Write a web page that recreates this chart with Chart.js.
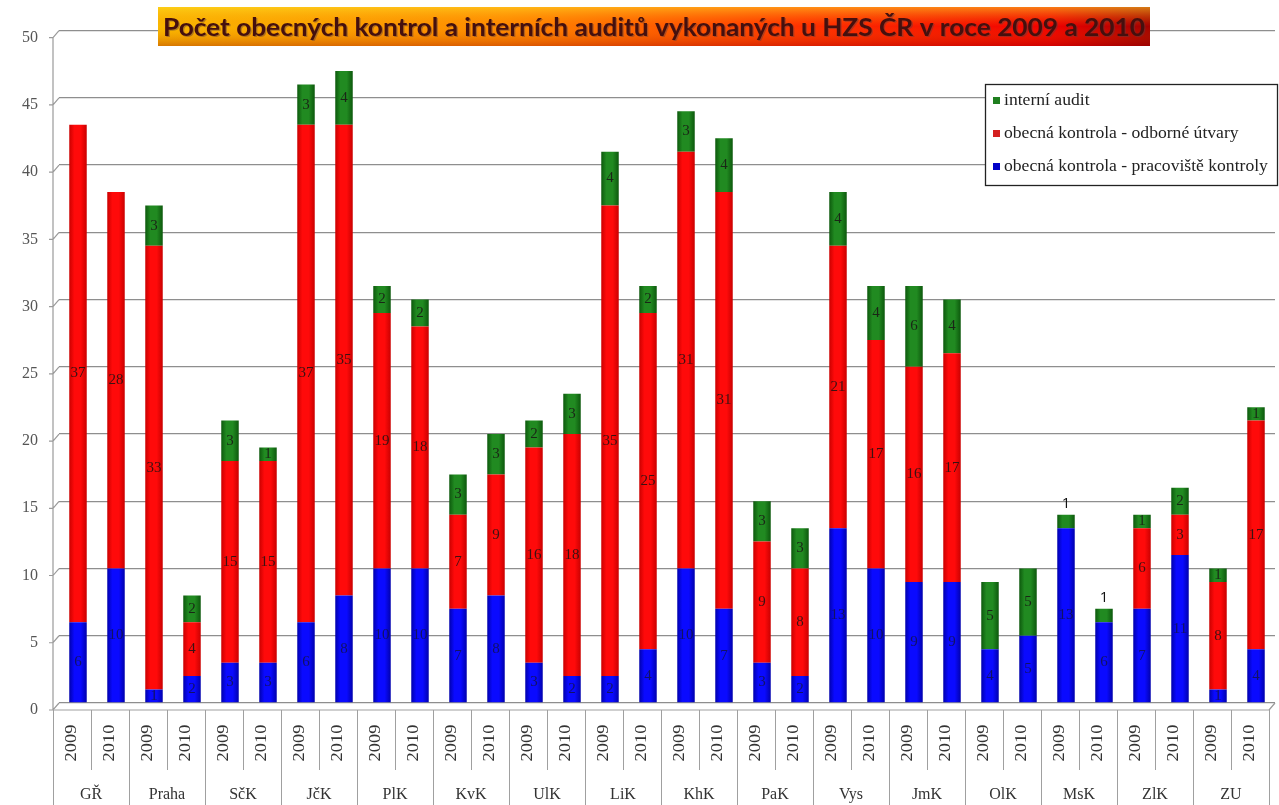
<!DOCTYPE html>
<html lang="cs">
<head>
<meta charset="utf-8">
<title>Počet obecných kontrol a interních auditů</title>
<script src="https://cdn.jsdelivr.net/npm/chart.js"></script>
<style>
  html, body { margin: 0; padding: 0; background: #fff; }
  #wrap { width: 1279px; height: 805px; position: relative; }
</style>
</head>
<body>
<div id="wrap"><canvas id="chart" width="1279" height="805"></canvas></div>
<script>
const chartTitle = 'Počet obecných kontrol a interních auditů vykonaných u HZS ČR v roce 2009 a 2010';
const regions = ['GŘ', 'Praha', 'SčK', 'JčK', 'PlK', 'KvK', 'UlK', 'LiK', 'KhK', 'PaK', 'Vys', 'JmK', 'OlK', 'MsK', 'ZlK', 'ZU'];
const years = ['2009', '2010'];
const yTicks = [0, 5, 10, 15, 20, 25, 30, 35, 40, 45, 50];

// one value per bar: GŘ 2009, GŘ 2010, Praha 2009, Praha 2010, ...
const pracovisteKontroly = [6, 10, 1, 2, 3, 3, 6, 8, 10, 10, 7, 8, 3, 2, 2, 4, 10, 7, 3, 2, 13, 10, 9, 9, 4, 5, 13, 6, 7, 11, 1, 4];
const odborneUtvary = [37, 28, 33, 4, 15, 15, 37, 35, 19, 18, 7, 9, 16, 18, 35, 25, 31, 31, 9, 8, 21, 17, 16, 17, 0, 0, 0, 0, 6, 3, 8, 17];
const interniAudit = [0, 0, 3, 2, 3, 1, 3, 4, 2, 2, 3, 3, 2, 3, 4, 2, 3, 4, 3, 3, 4, 4, 6, 4, 5, 5, 1, 1, 1, 2, 1, 1];

// regions whose audit label sits above the bar
const labelsAboveBar = ['MsK'];

const barLabels = regions.flatMap(r => years.map(y => y));
const serif = "'Liberation Serif', 'DejaVu Serif', serif";

// cylinder-ish shading across each bar
function cylinder(base, edge) {
    return function(context) {
        const chart = context.chart;
        const x = chart.scales.x;
        if (!chart.chartArea || !x) return base;
        const cx = x.getPixelForValue(context.dataIndex);
        const g = chart.ctx.createLinearGradient(cx - 9, 0, cx + 9, 0);
        g.addColorStop(0, edge);
        g.addColorStop(0.3, base);
        g.addColorStop(0.65, base);
        g.addColorStop(1, edge);
        return g;
    };
}

// value labels in the middle of each segment
const segmentLabels = {
    id: 'segmentLabels',
    afterDatasetsDraw(chart) {
        const ctx = chart.ctx;
        ctx.save();
        ctx.textAlign = 'center';
        ctx.textBaseline = 'middle';
        chart.data.datasets.forEach((ds, di) => {
            const meta = chart.getDatasetMeta(di);
            meta.data.forEach((bar, i) => {
                const v = ds.data[i];
                if (!v) return;
                const region = regions[Math.floor(i / 2)];
                if (di === 2 && labelsAboveBar.includes(region)) {
                    ctx.font = "15px 'Open Sans', sans-serif";
                    ctx.fillStyle = '#111';
                    ctx.fillText(String(v), bar.x, bar.y - 11);
                    return;
                }
                ctx.font = '15px ' + serif;
                ctx.fillStyle = di === 0 ? 'rgba(20, 20, 60, 0.8)' : 'rgba(25, 20, 20, 0.85)';
                ctx.fillText(String(v), bar.x, (bar.y + bar.base) / 2);
            });
        });
        ctx.restore();
    }
};

// front axis line, 3D ticks and the floor edge
const axisFrame = {
    id: 'axisFrame',
    afterDraw(chart) {
        const { ctx, scales: { x, y } } = chart;
        const depth = 6;
        const axisX = chart.chartArea.left - depth;
        ctx.save();
        ctx.strokeStyle = '#9a9a9a';
        ctx.lineWidth = 1.2;
        ctx.beginPath();
        ctx.moveTo(axisX, y.getPixelForValue(50) + 7);
        ctx.lineTo(axisX, y.getPixelForValue(0) + 7);
        yTicks.forEach(t => {
            const py = y.getPixelForValue(t);
            ctx.moveTo(axisX - 4, py + 7);
            ctx.lineTo(axisX, py + 7);
            ctx.lineTo(axisX + depth, py);
        });
        const right = x.getPixelForValue(barLabels.length - 1) + (x.getPixelForValue(1) - x.getPixelForValue(0)) / 2;
        ctx.moveTo(right - depth, y.getPixelForValue(0) + 7);
        ctx.lineTo(right, y.getPixelForValue(0));
        ctx.stroke();
        ctx.restore();
    }
};

// two level category table under the plot
const bottomTable = {
    id: 'bottomTable',
    afterDraw(chart) {
        const { ctx, scales: { x, y } } = chart;
        const step = x.getPixelForValue(1) - x.getPixelForValue(0);
        const shift = -6;
        const left = x.getPixelForValue(0) + shift - step / 2;
        const right = x.getPixelForValue(barLabels.length - 1) + shift + step / 2;
        const top = y.getPixelForValue(0) + 7;
        const bottom = 805;
        ctx.save();
        ctx.strokeStyle = '#a0a0a0';
        ctx.lineWidth = 1;
        ctx.beginPath();
        ctx.moveTo(left, top);
        ctx.lineTo(right, top);
        for (let i = 0; i <= barLabels.length; i++) {
            const px = Math.round(left + i * step) + 0.5;
            ctx.moveTo(px, top);
            ctx.lineTo(px, i % 2 === 0 ? bottom : top + 60);
        }
        ctx.stroke();

        ctx.fillStyle = '#333';
        ctx.textAlign = 'center';
        ctx.textBaseline = 'middle';
        ctx.font = '16px ' + serif;
        barLabels.forEach((lab, i) => {
            const cx = x.getPixelForValue(i) + shift;
            ctx.save();
            ctx.translate(cx, top + 33);
            ctx.rotate(-Math.PI / 2);
            ctx.scale(1.15, 1);
            ctx.fillText(lab, 0, 0);
            ctx.restore();
        });
        ctx.font = '16px ' + serif;
        regions.forEach((r, g) => {
            const cx = left + (g * 2 + 1) * step;
            ctx.fillText(r, cx, 795);
        });
        ctx.restore();
    }
};

// gradient title banner and the boxed legend
const banner = {
    id: 'banner',
    afterDraw(chart) {
        const ctx = chart.ctx;
        const bx = 158, by = 7, bw = 992, bh = 39;
        ctx.save();
        const gh = ctx.createLinearGradient(bx, 0, bx + bw, 0);
        gh.addColorStop(0, '#f9b800');
        gh.addColorStop(0.35, '#ff8a00');
        gh.addColorStop(0.65, '#ff3000');
        gh.addColorStop(0.9, '#f00000');
        gh.addColorStop(1, '#a00000');
        ctx.fillStyle = gh;
        ctx.fillRect(bx, by, bw, bh);
        const gv = ctx.createLinearGradient(0, by, 0, by + bh);
        gv.addColorStop(0, 'rgba(255, 225, 40, 0.55)');
        gv.addColorStop(0.5, 'rgba(255, 140, 0, 0)');
        gv.addColorStop(1, 'rgba(150, 0, 0, 0.35)');
        ctx.fillStyle = gv;
        ctx.fillRect(bx, by, bw, bh);

        ctx.font = "bold 25px Lato, 'Open Sans', sans-serif";
        const w = ctx.measureText(chartTitle).width;
        const target = 982;
        ctx.translate(bx + 5, by + bh / 2 + 1);
        ctx.scale(target / w, 1);
        ctx.textBaseline = 'middle';
        ctx.fillStyle = 'rgba(90, 60, 60, 0.45)';
        ctx.fillText(chartTitle, 1.2, 1.2);
        ctx.fillStyle = '#45100e';
        ctx.fillText(chartTitle, 0, 0);
        ctx.restore();

        // legend, top series first
        const lx = 985, ly = 84, lw = 292, lh = 101;
        ctx.save();
        ctx.fillStyle = '#fff';
        ctx.fillRect(lx, ly, lw, lh);
        ctx.strokeStyle = '#222';
        ctx.lineWidth = 1.3;
        ctx.strokeRect(lx + 0.5, ly + 0.5, lw, lh);
        ctx.font = '16px ' + serif;
        ctx.textBaseline = 'middle';
        const items = chart.data.datasets.slice().reverse();
        items.forEach((ds, k) => {
            const cy = ly + 17 + k * 33;
            ctx.fillStyle = ds.legendColor;
            ctx.fillRect(lx + 8, cy - 4, 7, 7);
            ctx.fillStyle = '#222';
            ctx.save();
            ctx.translate(lx + 19, cy);
            ctx.scale(1.1, 1);
            ctx.fillText(ds.label, 0, 0);
            ctx.restore();
        });
        ctx.restore();
    }
};

new Chart(document.getElementById('chart'), {
    type: 'bar',
    data: {
        labels: barLabels,
        datasets: [
            {
                label: 'obecná kontrola - pracoviště kontroly',
                data: pracovisteKontroly,
                backgroundColor: cylinder('#0a0aff', '#0000a8'),
                legendColor: '#0000c8'
            },
            {
                label: 'obecná kontrola - odborné útvary',
                data: odborneUtvary,
                backgroundColor: cylinder('#ff0a0a', '#c80000'),
                legendColor: '#d42020'
            },
            {
                label: 'interní audit',
                data: interniAudit,
                backgroundColor: cylinder('#218a21', '#0c560c'),
                legendColor: '#1f7f1f'
            }
        ]
    },
    options: {
        responsive: false,
        animation: false,
        layout: { padding: { top: 22, right: 4, left: 0, bottom: 0 } },
        datasets: {
            bar: { categoryPercentage: 1, barPercentage: 0.46, borderWidth: 0 }
        },
        plugins: {
            legend: { display: false },
            title: { display: false },
            tooltip: { enabled: false }
        },
        scales: {
            x: {
                stacked: true,
                grid: { display: false },
                border: { display: false },
                ticks: { display: false },
                afterFit(scale) { scale.height = 102; }
            },
            y: {
                stacked: true,
                min: 0,
                max: 50,
                afterBuildTicks(scale) { scale.ticks = yTicks.map(v => ({ value: v })); },
                afterFit(scale) { scale.width = 59; },
                grid: { color: '#8e8e8e', lineWidth: 1.3, drawTicks: false },
                border: { display: false },
                ticks: {
                    padding: 21,
                    labelOffset: 7,
                    color: '#555',
                    font: { family: serif, size: 16 }
                }
            }
        }
    },
    plugins: [segmentLabels, axisFrame, bottomTable, banner]
});
</script>
</body>
</html>
